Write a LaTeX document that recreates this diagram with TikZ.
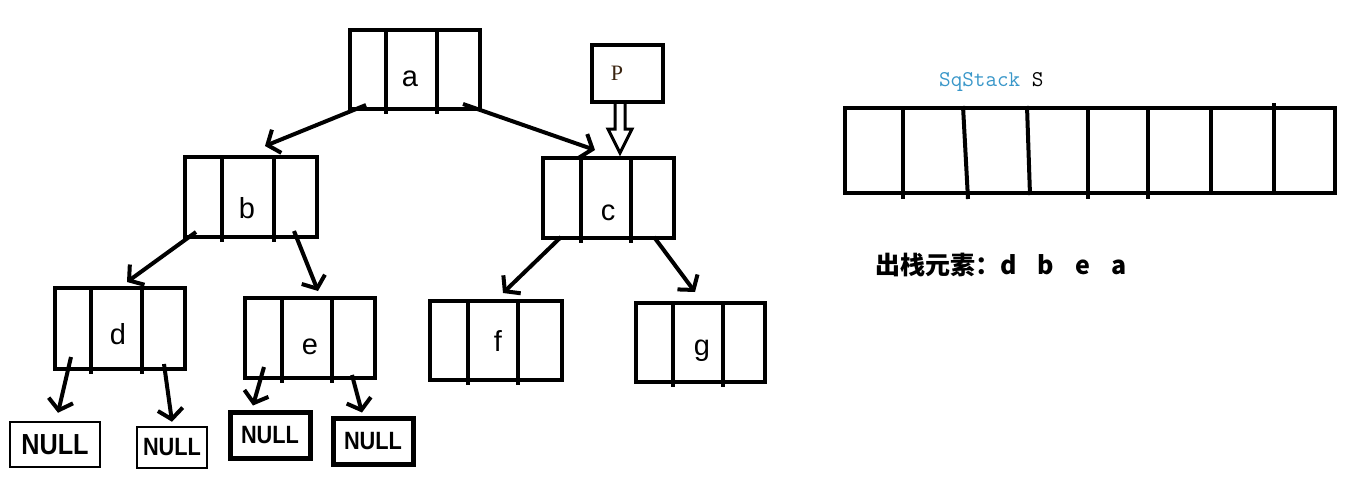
\documentclass[tikz,border=0pt]{standalone}
\usepackage{fontspec}
\setmainfont{Liberation Sans}
\newfontfamily\cjk{Noto Sans CJK SC}
\newfontfamily\nullf{Liberation Sans}[FakeStretch=0.87]
\newfontfamily\seriff{Liberation Serif}
\usetikzlibrary{arrows.meta,calc}
\definecolor{teal1}{HTML}{3A97C9}
\definecolor{pbrown}{HTML}{3A2410}
\tikzset{
  tnode/.style={draw, line width=4pt, minimum width=130pt, minimum height=80pt, inner sep=0pt},
  nullbox/.style={draw, inner sep=0pt, font=\nullf\bfseries\fontsize{25}{25}\selectfont},
  lbl/.style={font=\fontsize{29}{29}\selectfont, inner sep=0pt},
  arr/.style={line width=4pt, -{Straight Barb[length=10pt,width=25pt]}},
  divl/.style={line width=4pt},
}
\newcommand{\dividers}[3]{%
  \draw[divl] ([xshift=#2pt]#1.north west) -- ([xshift=#2pt,yshift=-3pt]#1.south west);
  \draw[divl] ([xshift=#3pt]#1.north west) -- ([xshift=#3pt,yshift=-3pt]#1.south west);
}
\begin{document}
\begin{tikzpicture}[x=1pt,y=-1pt]
\useasboundingbox (0,0) rectangle (1358,496);
% tree nodes
\node[tnode, minimum width=130pt, minimum height=79pt] (a) at (415,69.5) {};
\node[tnode, minimum width=132pt] (b) at (251,197) {};
\node[tnode, minimum width=131pt] (c) at (608.5,198) {};
\node[tnode, minimum width=130pt, minimum height=81pt] (d) at (120,328.5) {};
\node[tnode] (e) at (310,338) {};
\node[tnode, minimum width=132pt, minimum height=79pt] (f) at (496,340.5) {};
\node[tnode, minimum width=129pt, minimum height=79pt] (g) at (700.5,342.5) {};
\dividers{a}{38}{89}
\dividers{b}{39}{91}
\dividers{c}{40}{90}
\dividers{d}{38}{89}
\dividers{e}{39}{89}
\dividers{f}{40}{90}
\dividers{g}{39}{89}
\node[lbl] (la) at (410,79) {a};
\node[lbl] (lb) at (247,208) {b};
\node[lbl] (lc) at (608,213) {c};
\node[lbl] (ld) at (118,334) {d};
\node[lbl] (le) at (310,347) {e};
\node[lbl] (lf) at (498,341) {f};
\node[lbl] (lg) at (702,351) {g};
% NULL boxes
\node[nullbox, line width=2.5pt, minimum width=90pt, minimum height=45pt, font=\nullf\bfseries\fontsize{29}{29}\selectfont] (n1) at (55,444.5) {NULL};
\node[nullbox, line width=2.5pt, minimum width=70pt, minimum height=41pt] (n2) at (172,447.5) {NULL};
\node[nullbox, line width=5pt, minimum width=80pt, minimum height=46pt] (n3) at (270,435) {NULL};
\node[nullbox, line width=5pt, minimum width=80pt, minimum height=46pt] (n4) at (373,441) {NULL};
% P box
\node[draw, line width=4pt, minimum width=71pt, minimum height=57pt, inner sep=0pt] (P) at (627.5,73.5) {};
\node[font=\seriff\fontsize{22}{22}\selectfont, text=pbrown, inner sep=0pt] (lP) at (617,73) {P};
% hollow arrow P -> c
\draw[line width=3pt, line join=miter]
  ($(P.south)+(-12.5,0)$) -- ($(P.south)+(-12.5,25)$) -- ($(P.south)+(-19.5,25)$)
  -- ($(c.north)+(11.5,-3)$) -- ($(P.south)+(4.5,25)$) -- ($(P.south)+(-2.5,25)$)
  -- ($(P.south)+(-2.5,0)$);
% arrows
\draw[arr] ($(a.south west)+(18,-6)$) -- ($(b.north)+(14,-9)$);
\draw[arr] ($(a.south east)+(-19,-7)$) -- ($(c.north)+(-13.5,-6)$);
\draw[arr] ($(b.south west)+(13,-7)$) -- ($(d.north)+(7,-4)$);
\draw[arr] ($(b.south east)+(-25,-8)$) -- ($(e.north)+(8,-5)$);
\draw[arr] ($(c.south west)+(20,-3)$) -- ($(f.north)+(7,-6)$);
\draw[arr] ($(c.south east)+(-22,-3)$) -- ($(g.north)+(-5.5,-9)$);
\draw[arr] ($(d.south west)+(18,-14)$) -- ($(n1.north)+(3,-8)$);
\draw[arr] ($(d.south east)+(-23,-7)$) -- ($(n2.north)+(0,-4)$);
\draw[arr] ($(e.south west)+(21,-13)$) -- ($(n3.north)+(-17,-4)$);
\draw[arr] ($(e.south east)+(-25,-5)$) -- ($(n4.north)+(-11,-3)$);
% stack
\node[font=\ttfamily\fontsize{22.5}{22.5}\selectfont, anchor=base west, inner sep=0pt] (title) at (939,86) {\textcolor{teal1}{SqStack} S};
\node[draw, line width=4pt, minimum width=490pt, minimum height=85pt, inner sep=0pt] (S) at (1090,150.5) {};
\draw[divl] ([xshift=60pt]S.north west) -- ([xshift=60pt,yshift=-4pt]S.south west);
\draw[divl] ([xshift=120pt]S.north west) -- ([xshift=125pt,yshift=-4pt]S.south west);
\draw[divl] ([xshift=184pt]S.north west) -- ([xshift=187pt]S.south west);
\draw[divl] ([xshift=245pt]S.north west) -- ([xshift=245pt,yshift=-4pt]S.south west);
\draw[divl] ([xshift=305pt]S.north west) -- ([xshift=305pt,yshift=-4pt]S.south west);
\draw[divl] ([xshift=368pt]S.north west) -- ([xshift=368pt]S.south west);
\draw[divl] ([xshift=431pt,yshift=3pt]S.north west) -- ([xshift=431pt]S.south west);
% popped elements
\node[font=\cjk\bfseries\fontsize{25}{25}\selectfont, anchor=base west, inner sep=0pt] (out) at (875,274) {出栈元素：d\hspace{21pt}b\hspace{21pt}e\hspace{21pt}a};
\end{tikzpicture}
\end{document}
